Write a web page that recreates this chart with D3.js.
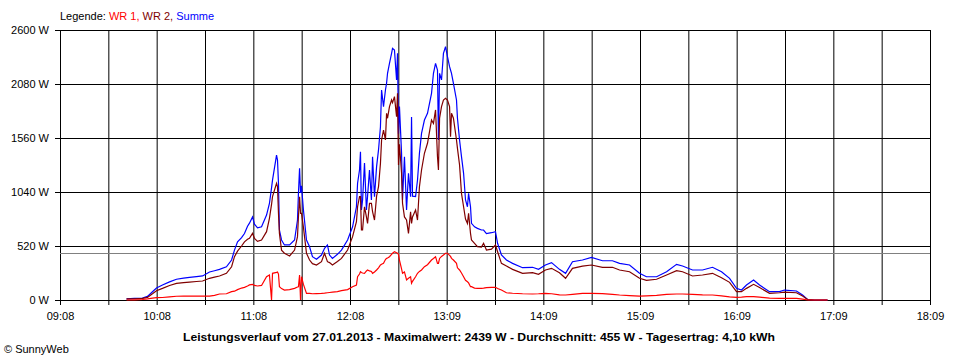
<!DOCTYPE html>
<html>
<head>
<meta charset="utf-8">
<script src="https://cdn.jsdelivr.net/npm/d3@7"></script>
<style>
  body { margin: 0; background: #fff; }
  svg text { font-family: "Liberation Sans", Arial, sans-serif; font-size: 11px; }
</style>
</head>
<body>
<div id="chart"></div>
<script>
// === SunnyWeb Leistungsverlauf — D3 v7 ===

// minutes after 09:08
const minutes = [
  41.3, 46.2, 51.2, 54.3, 57.4, 59.9, 63.6, 68.0, 72.3, 76.7,
  80.4, 84.7, 88.5, 92.8, 95.9, 99.0, 103.3, 106.5, 108.3, 110.2,
  112.7, 114.5, 116.4, 117.6, 119.5, 120.7, 122.6, 125.1, 128.2, 130.0,
  131.3, 131.9, 134.4, 135.0, 135.6, 136.2, 137.5, 139.3, 142.5, 145.6,
  147.4, 148.0, 148.7, 149.3, 149.9, 151.1, 153.0, 154.9, 156.7, 159.2,
  162.3, 164.2, 166.0, 167.3, 169.1, 172.2, 174.7, 178.5, 181.6, 184.0,
  184.7, 185.9, 186.5, 187.1, 187.8, 189.0, 190.2, 190.9, 192.1, 193.3,
  194.0, 195.2, 196.5, 197.7, 198.9, 199.6, 200.8, 202.0, 202.7, 203.3,
  204.5, 205.8, 206.4, 207.6, 208.9, 209.5, 210.1, 210.7, 212.0, 212.6,
  213.8, 215.1, 216.3, 217.6, 218.2, 218.8, 220.7, 221.9, 223.1, 224.4,
  226.2, 228.1, 230.6, 231.8, 233.1, 234.3, 234.9, 235.6, 236.8, 238.0,
  239.3, 240.5, 241.8, 242.4, 243.0, 244.2, 246.1, 246.7, 248.0, 249.2,
  250.5, 251.7, 252.9, 253.6, 254.8, 255.4, 257.3, 259.1, 261.6, 262.9,
  264.7, 267.8, 270.3, 271.6, 274.0, 277.1, 280.9, 287.1, 293.3, 297.0,
  301.3, 305.1, 310.0, 313.8, 318.1, 324.3, 329.9, 336.7, 342.9, 347.3,
  353.5, 359.7, 364.0, 370.3, 376.5, 382.7, 386.4, 392.6, 398.8, 405.0,
  410.6, 415.6, 419.9, 423.0, 426.1, 430.5, 434.2, 440.4, 446.6, 449.7,
  457.1, 460.9, 464.0, 468.3, 476.4
];

const summe = [
  10, 15, 18, 35, 80, 115, 145, 175, 200, 210,
  218, 225, 232, 270, 282, 295, 320, 385, 480, 560,
  600, 640, 710, 740, 800, 730, 695, 705, 818, 931,
  1080, 1155, 1396, 1348, 1123, 674, 578, 530, 530, 578,
  770, 1027, 1268, 1030, 1100, 867, 578, 513, 417, 392,
  433, 498, 530, 433, 401, 440, 481, 578, 705, 898,
  1124, 1252, 1428, 867, 960, 1319, 867, 1000, 1252, 963,
  1380, 995, 1284, 1445, 1669, 2022, 1862, 2022, 2087, 2183,
  2279, 2375, 2424, 2408, 2119, 2375, 1600, 1862, 1413, 963,
  1380, 867, 1220, 995, 1762, 1000, 995, 1156, 1413, 1605,
  1733, 1798, 1990, 2183, 2279, 2215, 1541, 2183, 2119, 2375,
  2439, 2343, 2247, 2215, 2183, 2087, 1926, 1750, 1541, 1380,
  1220, 963, 898, 1027, 898, 738, 705, 690, 674, 674,
  640, 648, 658, 546, 433, 385, 353, 311, 315, 295,
  337, 360, 295, 257, 369, 385, 411, 378, 378, 353,
  337, 257, 224, 224, 272, 343, 327, 289, 289, 315,
  272, 209, 112, 96, 144, 193, 144, 80, 80, 96,
  87, 48, 5, 0, 0
];

const wr2 = [
  10, 12, 15, 25, 60, 90, 112, 140, 160, 168,
  173, 178, 183, 209, 220, 231, 257, 320, 417, 470,
  520, 560, 585, 594, 642, 594, 565, 578, 658, 787,
  920, 995, 1124, 1091, 835, 642, 480, 450, 424, 481,
  610, 802, 995, 835, 835, 700, 450, 385, 350, 337,
  369, 450, 369, 360, 337, 370, 401, 481, 610, 754,
  898, 995, 995, 674, 674, 898, 800, 738, 931, 931,
  850, 770, 1000, 1091, 1316, 1541, 1637, 1541, 1798, 1750,
  1862, 1926, 1900, 1958, 1765, 1990, 1300, 1500, 1220, 931,
  800, 770, 642, 850, 738, 800, 867, 770, 1091, 1252,
  1413, 1509, 1733, 1700, 1830, 1380, 1252, 1750, 1862, 1926,
  1942, 1926, 1862, 1573, 1798, 1750, 1541, 1460, 1300, 1027,
  898, 780, 738, 835, 642, 578, 546, 513, 510, 546,
  481, 490, 530, 465, 353, 327, 295, 257, 263, 247,
  289, 305, 263, 209, 305, 327, 337, 315, 315, 289,
  272, 209, 190, 200, 241, 282, 272, 231, 241, 257,
  215, 170, 80, 80, 112, 151, 120, 64, 70, 75,
  70, 38, 5, 0, 0
];

const wr1 = [
  0, 2, 5, 10, 18, 22, 24, 30, 36, 37,
  38, 38, 38, 38, 45, 58, 60, 80, 85, 100,
  115, 122, 135, 145, 151, 140, 135, 140, 224, 241,
  0, 257, 266, 270, 250, 128, 110, 96, 100, 112,
  125, 128, 241, 0, 224, 150, 64, 64, 60, 62,
  64, 66, 70, 72, 75, 80, 90, 100, 128, 144,
  224, 250, 272, 265, 260, 257, 280, 289, 280, 275,
  257, 270, 289, 310, 337, 345, 353, 390, 401, 405,
  417, 440, 450, 465, 455, 450, 440, 385, 300, 257,
  270, 193, 210, 224, 161, 180, 224, 257, 275, 289,
  321, 340, 385, 400, 417, 353, 353, 400, 420, 433,
  450, 450, 430, 420, 401, 385, 353, 310, 289, 260,
  224, 190, 176, 165, 128, 128, 115, 112, 112, 115,
  120, 122, 122, 110, 96, 70, 65, 60, 58, 60,
  64, 60, 50, 48, 55, 64, 64, 62, 55, 48,
  42, 38, 40, 45, 55, 58, 58, 55, 50, 48,
  40, 30, 26, 28, 32, 32, 28, 18, 15, 15,
  15, 8, 0, 0, 0
];

const xTickLabels = ["09:08", "10:08", "11:08", "12:08", "13:09", "14:09", "15:09", "16:09", "17:09", "18:09"];
const yTicks = [0, 520, 1040, 1560, 2080, 2600];
const average = 455;
const titleText = "Leistungsverlauf vom 27.01.2013 - Maximalwert: 2439 W - Durchschnitt: 455 W - Tagesertrag: 4,10 kWh";

// sizing
const outerW = 960, outerH = 360;
const margin = { top: 30, right: 30, bottom: 60, left: 60 };
const width  = outerW - margin.left - margin.right;
const height = outerH - margin.top - margin.bottom;
const font = '"Liberation Sans", Arial, sans-serif';

const svg = d3.select("#chart").append("svg")
  .attr("width", outerW)
  .attr("height", outerH);

const g = svg.append("g").attr("transform", `translate(${margin.left},${margin.top})`);

const x = d3.scaleLinear().domain([0, 540]).range([0, width]);
const y = d3.scaleLinear().domain([0, 2600]).range([height, 0]);

// grid (half-hour verticals, also tick marks below the axis)
const gridX = d3.range(0, 541, 30);
g.append("g")
  .call(d3.axisBottom(x).tickValues(gridX).tickSize(height + 5).tickFormat(""))
  .call(a => a.select(".domain").remove());
g.append("g").attr("transform", "translate(-5,0)")
  .call(d3.axisRight(y).tickValues(yTicks).tickSize(width + 5).tickFormat(""))
  .call(a => a.select(".domain").remove());

// axis labels
g.append("g").attr("transform", `translate(0,${height})`)
  .call(d3.axisBottom(x).tickValues(d3.range(0, 541, 60)).tickSize(0).tickPadding(12)
    .tickFormat((d, i) => xTickLabels[i]))
  .call(a => a.select(".domain").remove())
  .attr("font-family", font).attr("font-size", 11);
g.append("g")
  .call(d3.axisLeft(y).tickValues(yTicks).tickSize(0).tickPadding(11).tickFormat(d => d + " W"))
  .call(a => a.select(".domain").remove())
  .attr("font-family", font).attr("font-size", 11);

// average line
g.append("line")
  .attr("x1", 0).attr("x2", width)
  .attr("y1", Math.round(y(average)) + 0.5).attr("y2", Math.round(y(average)) + 0.5)
  .attr("stroke", "#808080");

// series
const series = [
  { name: "Summe", color: "#0000ff", values: summe },
  { name: "WR 2", color: "#800000", values: wr2 },
  { name: "WR 1", color: "#ff0000", values: wr1 }
];
const line = d3.line().x((d, i) => x(minutes[i])).y(d => y(d));
g.append("g").selectAll("path").data(series).join("path")
  .attr("fill", "none")
  .attr("stroke", d => d.color)
  .attr("stroke-width", 1.2)
  .attr("d", d => line(d.values));

// legend
const legend = svg.append("text").attr("x", 60).attr("y", 20);
legend.append("tspan").attr("fill", "#000").text("Legende: ");
legend.append("tspan").attr("fill", "#ff0000").text("WR 1, ");
legend.append("tspan").attr("fill", "#800000").text("WR 2, ");
legend.append("tspan").attr("fill", "#0000ff").text("Summe");

// title + footer
svg.append("text").attr("x", 479).attr("y", 341)
  .attr("text-anchor", "middle").attr("font-weight", "bold")
  .attr("textLength", 592).attr("lengthAdjust", "spacingAndGlyphs")
  .text(titleText);
svg.append("text").attr("x", 4).attr("y", 353).text("\u00a9 SunnyWeb");
</script>
</body>
</html>
